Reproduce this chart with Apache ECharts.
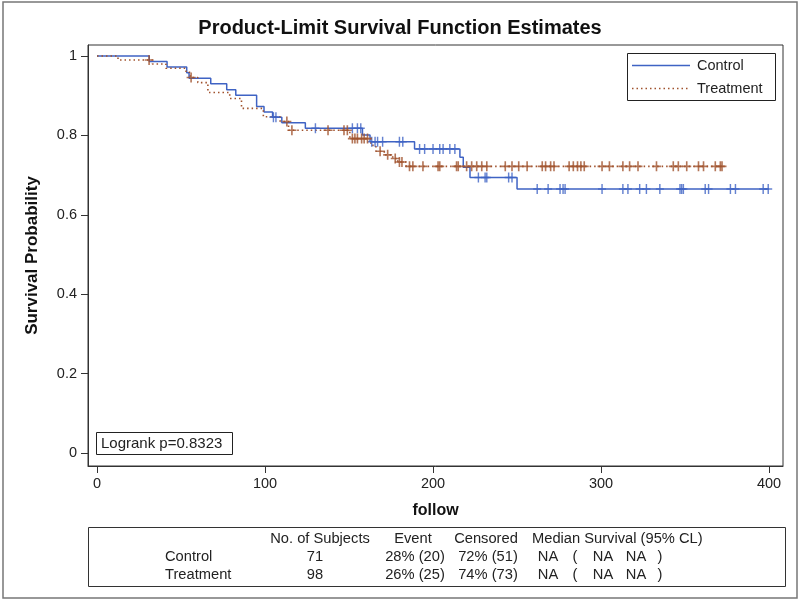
<!DOCTYPE html>
<html><head><meta charset="utf-8">
<script src="https://cdn.jsdelivr.net/npm/echarts@6/dist/echarts.min.js"></script>
<style>html,body{margin:0;padding:0;background:#fff}#c{width:800px;height:601px}</style>
</head><body><div id="c"></div>
<script>
// ---- data ----
const xTicks = [0, 100, 200, 300, 400];
const yTicks = [0, 0.2, 0.4, 0.6, 0.8, 1];
const groupNames = ['Control', 'Treatment'];
// Kaplan-Meier steps: [time, survival from this time on]
const controlSteps = [[0,1],[31.1,0.986],[41.7,0.972],[53.4,0.958],[54.8,0.944],[67.7,0.930],[77.2,0.915],[82.6,0.901],[95,0.873],[99.4,0.859],[104.5,0.846],[110,0.832],[124,0.818],[158,0.801],[162.5,0.784],[189,0.766],[216,0.745],[218,0.720],[222,0.694],[250,0.665],[400,0.665]];
const treatmentSteps = [[0,1],[12.5,0.990],[33,0.980],[41,0.969],[53,0.959],[55.5,0.946],[60,0.933],[66,0.908],[79,0.893],[86,0.868],[99,0.847],[109,0.835],[114,0.813],[150.5,0.792],[163,0.775],[166,0.760],[171,0.751],[176,0.742],[179,0.733],[184,0.722],[372,0.722]];
// censoring times
const controlCensored = [105,106.5,130,152,155,157,163.5,165.5,167,170,180,182,192,195,200,204,206,210,213,227,231,232,245,247,262,268.5,275.6,277.4,278.6,300.6,313,316,323,327,335,347,348,349,362,364,377,380,396.5,399.5];
const treatmentCensored = [31,56,113,116,137.5,147,149,152,153.5,155,157.5,159,161,168.5,173,177.5,180,181.5,186,188,194,203,204,214,215,220,223,226,229,232,243,247,251,256,265,267,270,272,281,283.5,286,288,290,300.6,305,313,317,322,333,343,346,351,358,361,368,371,372];
// summary table
const tableHeaders = ['No. of Subjects', 'Event', 'Censored', 'Median Survival (95% CL)'];
const nSubjects = [71, 98];
const eventText = ['28% (20)', '26% (25)'];
const censoredText = ['72% (51)', '74% (73)'];
const medianText = [['NA','NA','NA'], ['NA','NA','NA']];
const logrankText = 'Logrank p=0.8323';

// ---- helpers ----
function survAt(steps, t) {
  let s = steps[0][1];
  for (const p of steps) { if (p[0] <= t) s = p[1]; }
  return s;
}
const FONT = "'Liberation Sans', Arial, sans-serif";
const BLUE = '#3f63c4';
const BROWN = '#a0522d';
const plusPath = 'path://M-0.18,-1H0.18V1H-0.18Z M-1,-0.16H1V0.16H-1Z';

const chart = echarts.init(document.getElementById('c'), null, {renderer: 'canvas'});

const graphic = [];
graphic.push({type:'rect', shape:{x:3, y:2, width:794, height:596}, style:{fill:'none', stroke:'#777', lineWidth:1.5}, silent:true});
// legend box
graphic.push({type:'rect', shape:{x:627.5, y:53.5, width:148, height:47}, style:{fill:'#fff', stroke:'#222', lineWidth:1}, z:50});
graphic.push({type:'line', shape:{x1:632, y1:65.5, x2:690, y2:65.5}, style:{stroke:BLUE, lineWidth:1.5}, z:51});
graphic.push({type:'line', shape:{x1:632, y1:88.5, x2:690, y2:88.5}, style:{stroke:BROWN, lineWidth:1.6, lineDash:[1.5,3]}, z:51});
graphic.push({type:'text', x:697, y:66, style:{text:groupNames[0], font:'14.5px '+FONT, fill:'#222', textVerticalAlign:'middle'}, z:51});
graphic.push({type:'text', x:697, y:89, style:{text:groupNames[1], font:'14.5px '+FONT, fill:'#222', textVerticalAlign:'middle'}, z:51});
// logrank box
graphic.push({type:'rect', shape:{x:96.5, y:432.5, width:136, height:22}, style:{fill:'#fff', stroke:'#222', lineWidth:1}, z:50});
graphic.push({type:'text', x:101, y:444, style:{text:logrankText, font:'15px ' + FONT, fill:'#222', textVerticalAlign:'middle'}, z:51});
// table
graphic.push({type:'rect', shape:{x:88.5, y:527.5, width:697, height:59}, style:{fill:'none', stroke:'#333', lineWidth:1}});
const hdrX = [320, 413, 486, 532];
const hdrAlign = ['center','center','center','left'];
const TF = '14.7px ' + FONT;
tableHeaders.forEach((h,i) => graphic.push({type:'text', x:hdrX[i], y:539, style:{text:h, font:TF, fill:'#222', textAlign:hdrAlign[i], textVerticalAlign:'middle'}}));
const rowY = [557, 575];
groupNames.forEach((g,r) => {
  const y = rowY[r];
  const add = (x, txt, al) => graphic.push({type:'text', x:x, y:y, style:{text:String(txt), font:TF, fill:'#222', textAlign:al, textVerticalAlign:'middle'}});
  add(165, g, 'left');
  add(315, nSubjects[r], 'center');
  add(415, eventText[r], 'center');
  add(488, censoredText[r], 'center');
  add(548, medianText[r][0], 'center');
  add(575, '(', 'center');
  add(603, medianText[r][1], 'center');
  add(636, medianText[r][2], 'center');
  add(660, ')', 'center');
});

const option = {
  animation: false,
  title: {text:'Product-Limit Survival Function Estimates', left:'center', top:13,
    textStyle:{fontFamily:FONT, fontSize:20, fontWeight:'bold', color:'#111'}},
  grid: {left:88, right:17, top:45, bottom:135, show:true, borderColor:'#333', borderWidth:1, backgroundColor:'#fff'},
  xAxis: {type:'value', min:-5.36, max:408.3, name:'follow', nameLocation:'middle', nameGap:37,
    nameTextStyle:{fontFamily:FONT, fontSize:16, fontWeight:'bold', color:'#111'},
    axisLine:{show:true, onZero:false, lineStyle:{color:'#333'}},
    axisTick:{show:true, customValues:xTicks, length:7, lineStyle:{color:'#333'}},
    axisLabel:{customValues:xTicks, margin:10, fontFamily:FONT, fontSize:14.5, color:'#222'},
    splitLine:{show:false}},
  yAxis: {type:'value', min:-0.0327, max:1.0277, name:'Survival Probability', nameLocation:'middle', nameGap:47,
    nameTextStyle:{fontFamily:FONT, fontSize:17, fontWeight:'bold', color:'#111'},
    axisLine:{show:true, onZero:false, lineStyle:{color:'#333'}},
    axisTick:{show:true, customValues:yTicks, length:7, lineStyle:{color:'#333'}},
    axisLabel:{customValues:yTicks, margin:11, fontFamily:FONT, fontSize:14.5, color:'#222'},
    splitLine:{show:false}},
  series: [
    {name:'Control', type:'line', step:'end', data:controlSteps, symbol:'none', showSymbol:false,
      lineStyle:{color:BLUE, width:1.5}, itemStyle:{color:BLUE}, z:3},
    {name:'Treatment', type:'line', step:'end', data:treatmentSteps, symbol:'none', showSymbol:false,
      lineStyle:{color:BROWN, width:1.6, type:[1.5,3]}, itemStyle:{color:BROWN}, z:4},
    {name:'Control censored', type:'scatter', data:controlCensored.map(t => [t, survAt(controlSteps, t)]),
      symbol:plusPath, symbolSize:[8,10], itemStyle:{color:BLUE}, z:5},
    {name:'Treatment censored', type:'scatter', data:treatmentCensored.map(t => [t, survAt(treatmentSteps, t)]),
      symbol:plusPath, symbolSize:[9,10], itemStyle:{color:BROWN}, z:6}
  ],
  graphic: graphic
};
chart.setOption(option);
</script></body></html>
